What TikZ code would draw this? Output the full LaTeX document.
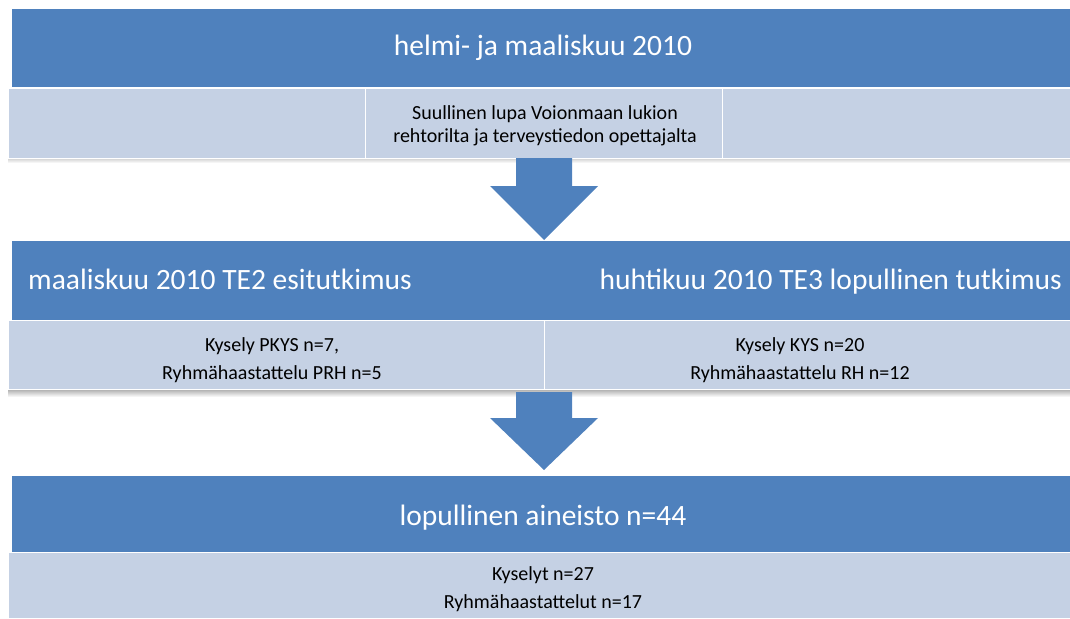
\documentclass[tikz,border=0pt]{standalone}
\usepackage{fontspec}
\setmainfont{Carlito}
\definecolor{hdr}{HTML}{4F81BD}
\definecolor{band}{HTML}{C5D1E4}
\definecolor{shade}{HTML}{D5DCEA}
\tikzset{
  hdrbox/.style={fill=hdr, draw=none, inner sep=0pt},
  bandbox/.style={fill=band, draw=white, line width=1.2pt, inner sep=0pt},
  big/.style={text=white, font=\fontsize{29.5}{32}\selectfont, inner sep=0pt},
  small/.style={text=black, font=\fontsize{20}{23}\selectfont, align=center, inner sep=0pt},
  smallw/.style={text=black, font=\fontsize{20}{28}\selectfont, align=center, inner sep=0pt},
  flow/.style={fill=hdr, draw=none},
}
\begin{document}
\begin{tikzpicture}[x=1pt,y=-1pt]
\useasboundingbox (0,0) rectangle (1070,618);
% ---- top block
\fill[shade] (8,150) rectangle (1070,163);
\node[hdrbox, minimum width=1058pt, minimum height=78pt, anchor=north west] (h1) at (12,9) {};
\node[big, anchor=base] (t1) at (543,56) {helmi- ja maaliskuu 2010};
\node[bandbox, minimum width=357pt, minimum height=70pt, anchor=north west] (b1a) at (8,88) {};
\node[bandbox, minimum width=357pt, minimum height=70pt, anchor=north west] (b1b) at (365,88) {};
\node[bandbox, minimum width=348pt, minimum height=70pt, anchor=north west] (b1c) at (722,88) {};
\node[small] (s1) at (545,126) {Suullinen lupa Voionmaan lukion\\rehtorilta ja terveystiedon opettajalta};
% ---- arrow 1
\fill[flow] (516,158) -- (572,158) -- (572,186) -- (598,186) -- (544,240) -- (490,186) -- (516,186) -- cycle;
% ---- middle block
\fill[shade] (8,385) rectangle (1070,397);
\node[hdrbox, minimum width=1058pt, minimum height=79pt, anchor=north west] (h2) at (12,241) {};
\node[big, anchor=base west] (t2a) at (28,289) {maaliskuu 2010 TE2 esitutkimus};
\node[big, anchor=base east] (t2b) at (1062,289) {huhtikuu 2010 TE3 lopullinen tutkimus};
\node[bandbox, minimum width=536pt, minimum height=69pt, anchor=north west] (b2a) at (8,320) {};
\node[bandbox, minimum width=526pt, minimum height=69pt, anchor=north west] (b2b) at (544,320) {};
\node[smallw] (s2a) at (272,360) {Kysely PKYS n=7,\\Ryhmähaastattelu PRH n=5};
\node[smallw] (s2b) at (800,360) {Kysely KYS n=20\\Ryhmähaastattelu RH n=12};
% ---- arrow 2
\fill[flow] (516,392) -- (572,392) -- (572,418) -- (598,418) -- (544,470) -- (490,418) -- (516,418) -- cycle;
% ---- bottom block
\node[hdrbox, minimum width=1058pt, minimum height=76pt, anchor=north west] (h3) at (12,476) {};
\node[big, anchor=base] (t3) at (543,525) {lopullinen aineisto n=44};
\node[bandbox, minimum width=1062pt, minimum height=66pt, anchor=north west] (b3) at (8,552) {};
\node[smallw] (s3) at (543,589) {Kyselyt n=27\\Ryhmähaastattelut n=17};
\end{tikzpicture}
\end{document}
